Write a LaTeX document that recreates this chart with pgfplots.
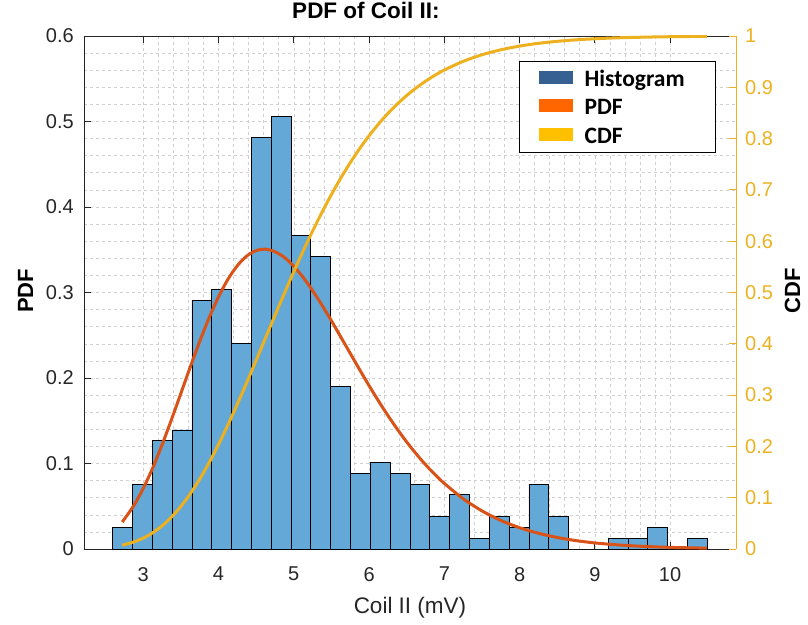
\documentclass[border=0pt]{standalone}
\usepackage{fontspec}
\setmainfont{Liberation Sans}
\newfontfamily\carlito{Carlito}
\usepackage{pgfplots}
\usepackage{pgfplotstable}
\pgfplotsset{compat=1.18}
\definecolor{barfill}{RGB}{99,168,214}
\definecolor{pdfcol}{RGB}{217,83,25}
\definecolor{cdfcol}{RGB}{237,177,32}
\definecolor{axgray}{RGB}{38,38,38}
\definecolor{gridcol}{RGB}{208,208,208}
\definecolor{leghist}{RGB}{54,96,146}
\definecolor{legpdf}{RGB}{255,102,0}
\definecolor{legcdf}{RGB}{255,192,0}

% histogram: left bin edges and normalized heights (last row = right edge)
\pgfplotstableread{
x y
2.5930 0.0253
2.8564 0.0759
3.1198 0.1266
3.3832 0.1392
3.6466 0.2911
3.9100 0.3037
4.1734 0.2404
4.4368 0.4809
4.7002 0.5062
4.9636 0.3670
5.2270 0.3417
5.4904 0.1898
5.7538 0.0886
6.0172 0.1012
6.2806 0.0886
6.5440 0.0759
6.8074 0.0380
7.0708 0.0633
7.3342 0.0127
7.5976 0.0380
7.8610 0.0253
8.1244 0.0759
8.3878 0.0380
8.6512 0
8.9146 0
9.1780 0.0127
9.4414 0.0127
9.7048 0.0253
9.9682 0
10.2316 0.0127
10.4950 0
}\histdata

\pgfplotstableread{
x y
2.72 0.0315
2.875 0.0510
3.0 0.0710
3.125 0.0948
3.25 0.1220
3.375 0.1515
3.5 0.1822
3.625 0.2131
3.75 0.2429
3.875 0.2705
4.0 0.2950
4.125 0.3155
4.25 0.3314
4.375 0.3427
4.5 0.3490
4.625 0.3506
4.75 0.3477
4.875 0.3410
5.0 0.3307
5.125 0.3176
5.25 0.3022
5.375 0.2851
5.5 0.2669
5.625 0.2479
5.75 0.2288
5.875 0.2097
6.0 0.1911
6.125 0.1732
6.25 0.1562
6.375 0.1402
6.5 0.1252
6.625 0.1114
6.75 0.0987
6.875 0.0871
7.0 0.0767
7.25 0.0588
7.5 0.0446
7.75 0.0334
8.0 0.0249
8.25 0.0184
8.5 0.0135
8.75 0.0098
9.0 0.0071
9.25 0.0052
9.5 0.0037
9.75 0.0027
10.0 0.0019
10.25 0.0014
10.49 0.0010
}\pdfdata

\pgfplotstableread{
x y
2.72 0.0074
2.875 0.0138
3.0 0.0213
3.125 0.0317
3.25 0.0452
3.375 0.0623
3.5 0.0832
3.625 0.1079
3.75 0.1364
3.875 0.1684
4.0 0.2038
4.125 0.2421
4.25 0.2826
4.375 0.3247
4.5 0.3680
4.625 0.4118
4.75 0.4554
4.875 0.4985
5.0 0.5405
5.125 0.5811
5.25 0.6198
5.375 0.6566
5.5 0.6910
5.625 0.7232
5.75 0.7530
5.875 0.7805
6.0 0.8056
6.125 0.8283
6.25 0.8490
6.375 0.8674
6.5 0.8840
6.625 0.8987
6.75 0.9118
6.875 0.9235
7.0 0.9337
7.25 0.9505
7.5 0.9634
7.75 0.9731
8.0 0.9803
8.25 0.9857
8.5 0.9896
8.75 0.9925
9.0 0.9946
9.25 0.9962
9.5 0.9972
9.75 0.9980
10.0 0.9986
10.25 0.9990
10.49 0.9993
}\cdfdata

\begin{document}
\begin{tikzpicture}
\path[use as bounding box] (-84pt,-75pt) rectangle (724pt,549pt);
\begin{axis}[
  at={(0pt,0pt)}, anchor=south west,
  scale only axis, width=652pt, height=513pt,
  xmin=2.212, xmax=10.876, ymin=0, ymax=0.6,
  axis y line*=left,
  xtick={3,4,5,6,7,8,9,10},
  ytick={0,0.1,0.2,0.3,0.4,0.5,0.6},
  xtick pos=both, ytick pos=left,
  x tick label as interval=false,
  tick align=inside,
  major tick length=7pt, minor tick length=0pt,
  minor tick num=4,
  grid=both,
  major grid style={gridcol, dash pattern=on 3pt off 3pt, line width=0.6pt},
  minor grid style={gridcol, dash pattern=on 3pt off 3pt, line width=0.6pt},
  axis line style={axgray, line width=0.8pt},
  tick style={axgray, line width=0.8pt},
  /pgf/number format/assume math mode=true,
  tick label style={font=\fontsize{20}{24}\selectfont, text=axgray},
  xticklabel style={anchor=north, inner sep=0pt, yshift=-18pt},
  yticklabel style={anchor=east, inner sep=0pt, xshift=-10pt},
  title={PDF of Coil II:},
  title style={at={(axis description cs:0.4325,1.0224)}, anchor=base, font=\bfseries\fontsize{22.5}{27}\selectfont, text=black},
  xlabel={Coil II (mV)},
  xlabel style={at={(axis description cs:0.5,-0.1248)}, anchor=base, font=\fontsize{22.5}{27}\selectfont, text=axgray},
  ylabel={PDF},
  ylabel style={at={(axis description cs:-0.0782,0.503)}, anchor=base, font=\bfseries\fontsize{22}{26}\selectfont, text=black},
]
\addplot[ybar interval, fill=barfill, draw=black, line width=0.8pt] table[x=x,y=y] {\histdata};
\addplot[pdfcol, line width=3pt, smooth] table[x=x,y=y] {\pdfdata};
\end{axis}
\begin{axis}[
  at={(0pt,0pt)}, anchor=south west,
  scale only axis, width=652pt, height=513pt,
  xmin=2.212, xmax=10.876, ymin=0, ymax=1,
  axis x line=none,
  axis y line*=right,
  ytick={0,0.1,0.2,0.3,0.4,0.5,0.6,0.7,0.8,0.9,1},
  tick align=inside,
  major tick length=7pt,
  y axis line style={cdfcol, line width=0.8pt},
  ytick style={cdfcol, line width=0.8pt},
  /pgf/number format/assume math mode=true,
  yticklabel style={font=\fontsize{20}{24}\selectfont, text=cdfcol, anchor=west, inner sep=0pt, xshift=9pt},
  ylabel={CDF},
  ylabel style={at={(axis description cs:1.0982,0.503)}, anchor=base, font=\bfseries\fontsize{22}{26}\selectfont, text=black},
  legend style={at={(axis description cs:0.9693,0.9513)}, anchor=north east,
    draw=black, line width=0.8pt, fill=white,
    font=\carlito\bfseries\fontsize{23.5}{28}\selectfont,
    inner xsep=19pt, inner ysep=9.5pt, row sep=13pt,
    nodes={inner sep=0pt, text height=15.3pt, text depth=0pt},
    /tikz/every odd column/.append style={column sep=12pt}},
  legend cell align=left,
]
\addplot[cdfcol, line width=3pt, smooth, forget plot] table[x=x,y=y] {\cdfdata};
\addlegendimage{legend image code/.code={\fill[leghist] (0pt,-4.6pt) rectangle (33pt,7.4pt);}}
\addlegendentry{Histogram\hspace*{12pt}}
\addlegendimage{legend image code/.code={\fill[legpdf] (0pt,-4.6pt) rectangle (33pt,7.4pt);}}
\addlegendentry{PDF}
\addlegendimage{legend image code/.code={\fill[legcdf] (0pt,-4.6pt) rectangle (33pt,7.4pt);}}
\addlegendentry{CDF}
\end{axis}
\end{tikzpicture}
\end{document}
